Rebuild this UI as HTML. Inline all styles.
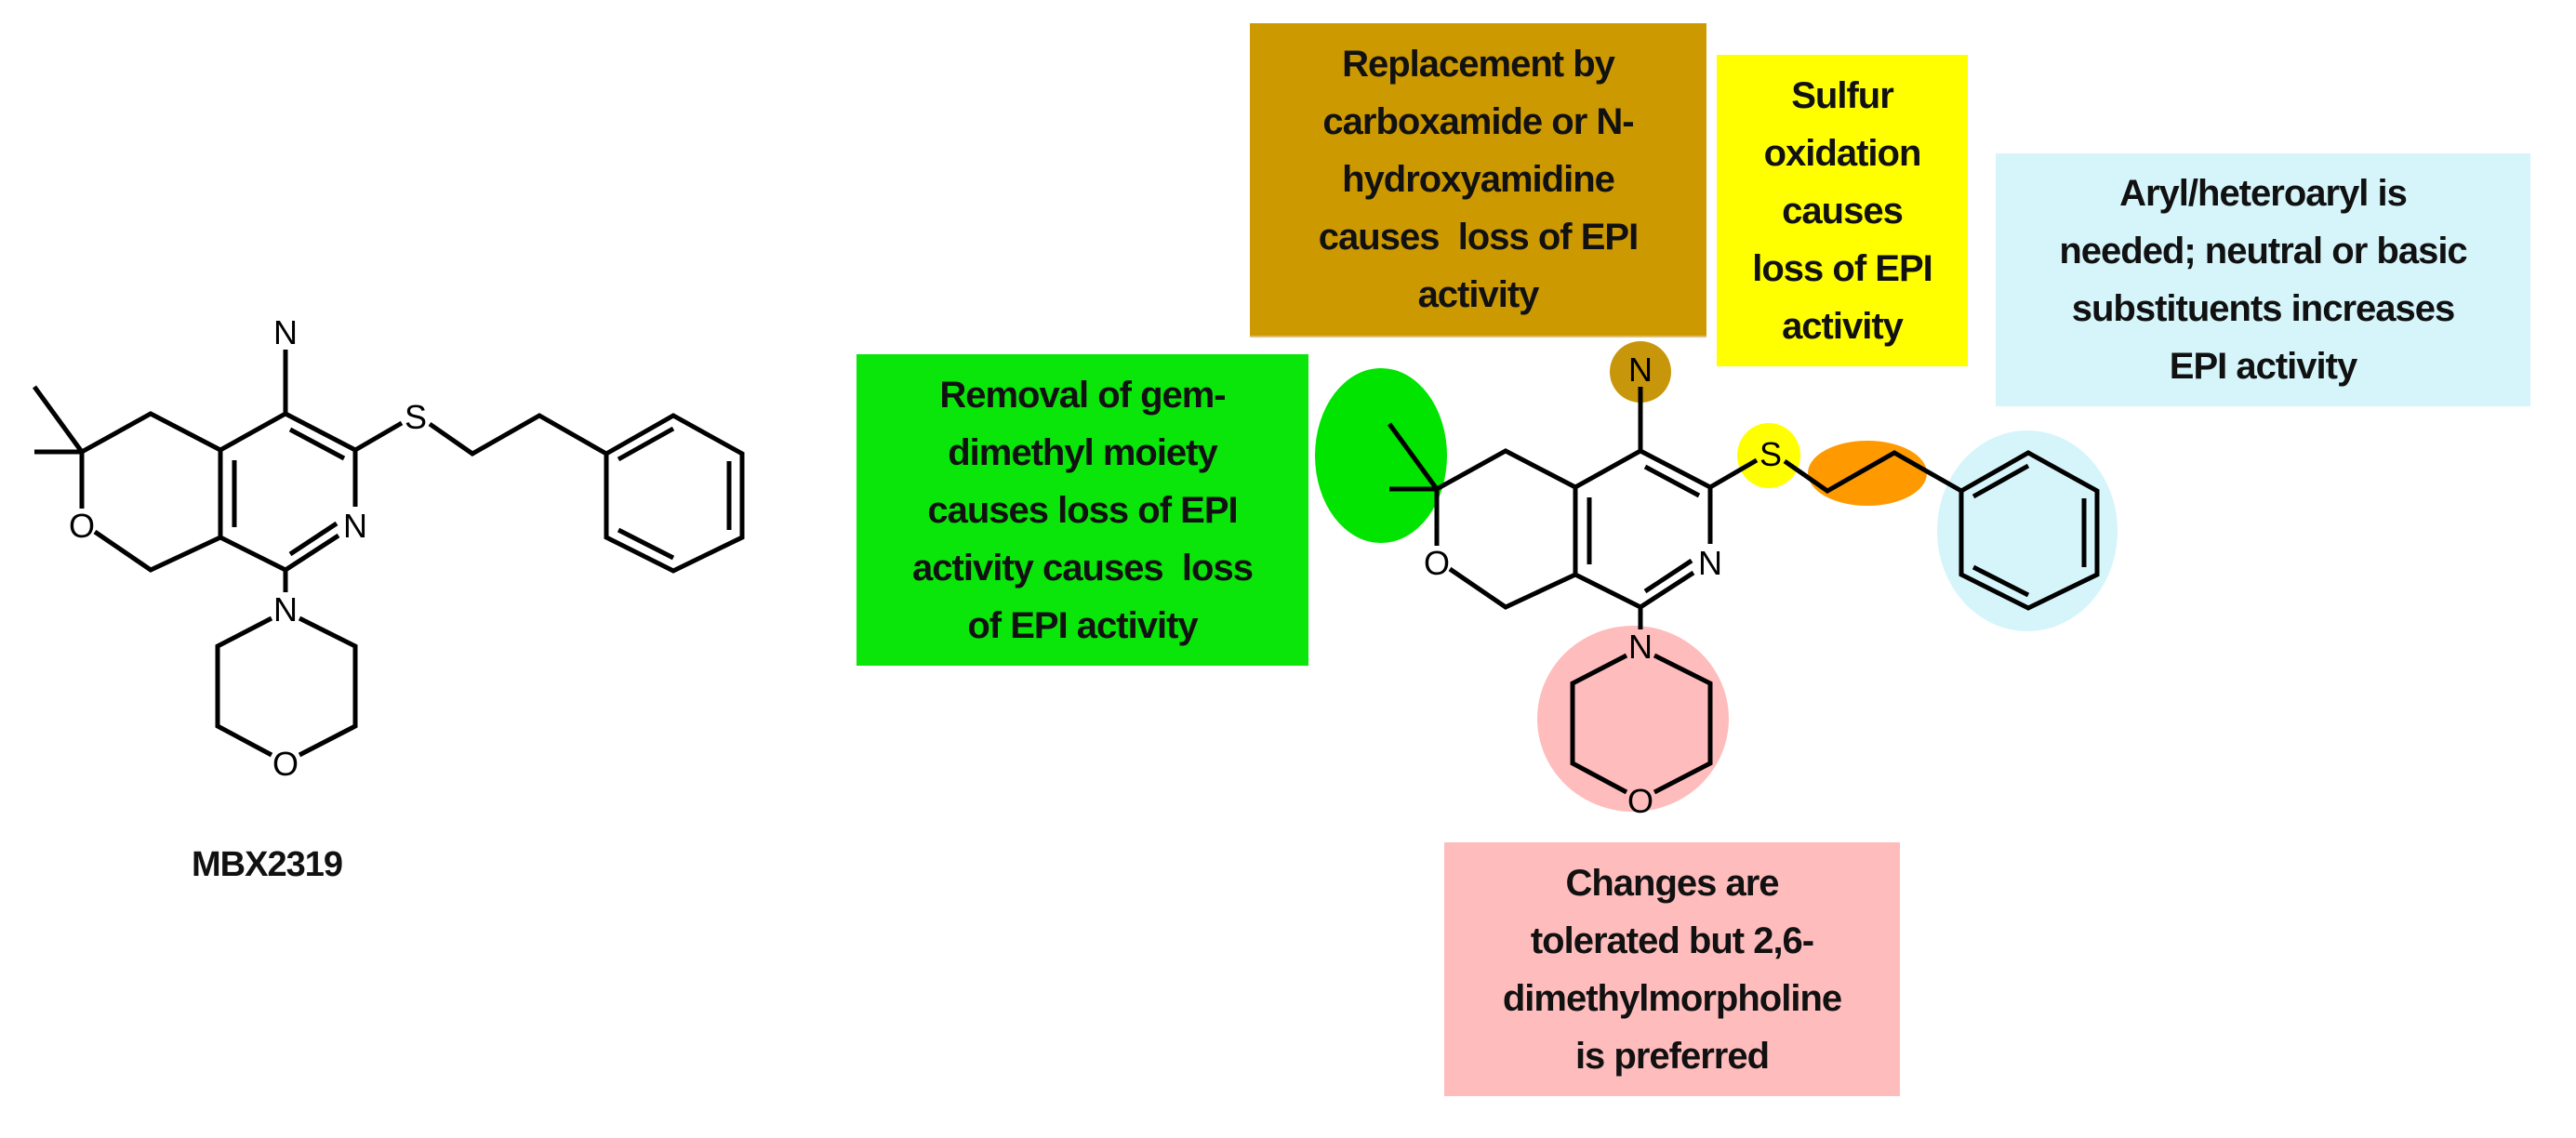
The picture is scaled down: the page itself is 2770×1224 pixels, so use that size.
<!DOCTYPE html>
<html><head><meta charset="utf-8"><style>
html,body{margin:0;padding:0;background:#fff;}
body{width:2770px;height:1224px;position:relative;overflow:hidden;font-family:"Liberation Sans",Arial,sans-serif;}
.box{position:absolute;display:flex;flex-direction:column;justify-content:center;align-items:center;text-align:center;font-weight:bold;font-size:40px;line-height:62px;color:#111;white-space:nowrap;letter-spacing:-1px;}
.box div{white-space:nowrap;}
svg{position:absolute;left:0;top:0;}
</style></head><body>
<svg width="2770" height="1224" viewBox="0 0 2770 1224">
<!-- highlight shapes for molecule 2 -->
<ellipse cx="1485" cy="490" rx="71" ry="94" fill="#00e400"/>
<circle cx="1764" cy="400" r="33" fill="#c8960a"/>
<ellipse cx="1902" cy="490" rx="34" ry="35" fill="#ffff00"/>
<ellipse cx="2008" cy="509" rx="64" ry="35" fill="#ff9900"/>
<ellipse cx="2180" cy="571" rx="97" ry="108" fill="#d5f5fb"/>
<ellipse cx="1756" cy="773" rx="103" ry="100" fill="#ffbcbc"/>
<defs>
<g id="mol" stroke="#000" stroke-width="5" fill="none" stroke-linecap="butt" stroke-linejoin="miter">
<!-- amino N bond -->
<line x1="307" y1="376" x2="307" y2="445"/>
<!-- pyridine -->
<polyline points="237,578 237,484 307,445 382,484 382,545"/>
<polyline points="364,576 307,613 237,578"/>
<line x1="312" y1="462" x2="370" y2="493"/>
<line x1="252" y1="495" x2="252" y2="567"/>
<line x1="312" y1="596" x2="362" y2="563"/>
<!-- pyran -->
<polyline points="237,484 162,445 88,486 88,547"/>
<polyline points="102,572 162,613 237,578"/>
<line x1="88" y1="486" x2="37" y2="416"/>
<line x1="88" y1="486" x2="37" y2="486"/>
<!-- S chain -->
<line x1="382" y1="484" x2="432" y2="455"/>
<polyline points="462,456 508,488 580,447 652,488"/>
<!-- benzene -->
<polygon points="652,488 724,447 798,488 798,578 724,614 652,578"/>
<line x1="665" y1="494" x2="724" y2="461"/>
<line x1="784" y1="496" x2="784" y2="570"/>
<line x1="724" y1="600" x2="665" y2="570"/>
<!-- morpholine -->
<line x1="307" y1="613" x2="307" y2="637"/>
<polyline points="322,665 382,695 382,781 322,812"/>
<polyline points="292,665 234,695 234,781 292,812"/>
</g>
<g id="lab" font-family="Liberation Sans, Arial, sans-serif" font-size="36" fill="#000" text-anchor="middle">
<text x="307" y="370">N</text>
<text x="88" y="578">O</text>
<text x="382" y="578">N</text>
<text x="447" y="461">S</text>
<text x="307" y="668">N</text>
<text x="307" y="834">O</text>
</g>
</defs>
<use href="#mol"/><use href="#lab"/>
<g transform="translate(1457,40)"><use href="#mol"/><use href="#lab"/></g>
<text x="287" y="942" font-family="Liberation Sans, Arial, sans-serif" font-weight="bold" font-size="38" text-anchor="middle" fill="#111" letter-spacing="-1">MBX2319</text>
</svg>

<div class="box" style="left:921px;top:381px;width:486px;height:335px;background:#0ae60a;">
<div>Removal of gem-</div><div>dimethyl moiety</div><div>causes loss of EPI</div><div>activity causes&nbsp; loss</div><div>of EPI activity</div></div>

<div class="box" style="left:1344px;top:25px;width:491px;height:336px;background:#cc9900;border-bottom:2px solid #e0c070;">
<div>Replacement by</div><div>carboxamide or N-</div><div>hydroxyamidine</div><div>causes&nbsp; loss of EPI</div><div>activity</div></div>

<div class="box" style="left:1846px;top:59px;width:270px;height:335px;background:#ffff00;">
<div>Sulfur</div><div>oxidation</div><div>causes</div><div>loss of EPI</div><div>activity</div></div>

<div class="box" style="left:2146px;top:165px;width:575px;height:272px;background:#d5f5fb;">
<div>Aryl/heteroaryl is</div><div>needed; neutral or basic</div><div>substituents increases</div><div>EPI activity</div></div>

<div class="box" style="left:1553px;top:906px;width:490px;height:273px;background:#ffbcbc;">
<div>Changes are</div><div>tolerated but 2,6-</div><div>dimethylmorpholine</div><div>is preferred</div></div>
</body></html>
